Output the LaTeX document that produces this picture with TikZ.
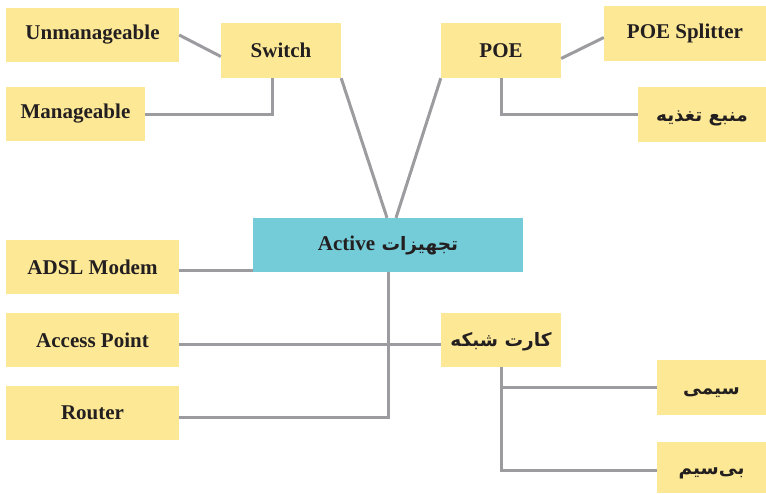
\documentclass[tikz,border=0pt]{standalone}
\usepackage{fontspec}
\setmainfont{Liberation Serif}
\newfontfamily\farsi[Script=Arabic]{DejaVu Sans}
\TeXXeTstate=1
\definecolor{boxyellow}{HTML}{FDE995}
\definecolor{boxteal}{HTML}{74CCD8}
\definecolor{linegray}{HTML}{9B9BA0}
\definecolor{textdark}{HTML}{231F20}
\newcommand{\fatext}[1]{\beginR #1\endR}
\tikzset{
	item/.style = {fill=boxyellow, text=textdark, inner sep=0pt, minimum height=54pt, font=\fontsize{21}{25}\selectfont\bfseries},
	fa/.style = {font=\fontsize{18.5}{22}\selectfont\bfseries\farsi, text height=13pt, text depth=0pt},
	link/.style = {draw=linegray, line width=3pt},
}
\begin{document}
\begin{tikzpicture}[x=1pt, y=-1pt]
	\useasboundingbox [fill=white] (0,0) rectangle (766,493);
	% boxes
	\node [item, minimum width=173pt] (unman) at (92.5,35) {Unmanageable};
	\node [item, minimum width=120pt, minimum height=55pt] (switch) at (281,50.5) {Switch};
	\node [item, minimum width=139pt] (manage) at (75.5,114) {Manageable};
	\node [item, minimum width=120pt, minimum height=55pt] (poe) at (501,50.5) {POE};
	\node [item, minimum width=162pt, minimum height=55pt] (split) at (685,33.5) {POE Splitter};
	\node [item, fa, minimum width=128pt, minimum height=55pt] (power) at (702,114.5) {\fatext{منبع تغذیه}};
	\node [item, fill=boxteal, minimum width=270pt] (active) at (388,245) {{\fontsize{18.5}{22}\selectfont\farsi\beginR تجهیزات \beginL{\rmfamily\fontsize{21}{25}\selectfont Active}\endL\endR}};
	\node [item, minimum width=173pt] (adsl) at (92.5,267) {ADSL Modem};
	\node [item, minimum width=173pt] (ap) at (92.5,340) {Access Point};
	\node [item, minimum width=173pt] (router) at (92.5,413) {Router};
	\node [item, fa, minimum width=120pt] (nic) at (501,340) {\fatext{کارت شبکه}};
	\node [item, fa, minimum width=109pt, minimum height=55pt] (wired) at (711.5,387.5) {\fatext{سیمی}};
	\node [item, fa, minimum width=109pt, minimum height=51pt] (wireless) at (711.5,467.5) {\fatext{بی‌سیم}};
	% links
	\draw [link] (unman.east) -- ([yshift=-6pt]switch.west);
	\draw [link] ([xshift=-9pt]switch.south) |- (manage.east);
	\draw [link] (switch.south east) -- ([xshift=-1pt]active.north);
	\draw [link] (poe.south west) -- ([xshift=8pt]active.north);
	\draw [link] ([yshift=-8pt]poe.east) -- ([yshift=-4pt]split.west);
	\draw [link] (poe.south) |- (power.west);
	\coordinate (adslout) at ([yshift=-3pt]adsl.east);
	\draw [link] (adslout) -- (adslout -| active.west);
	\draw [link] (active.south) |- ([yshift=-4pt]router.east);
	\draw [link] ([yshift=-4pt]ap.east) -- ([yshift=-4pt]nic.west);
	\draw [link] (nic.south) |- (wired.west);
	\draw [link] (nic.south) |- ([yshift=-3pt]wireless.west);
\end{tikzpicture}
\end{document}
